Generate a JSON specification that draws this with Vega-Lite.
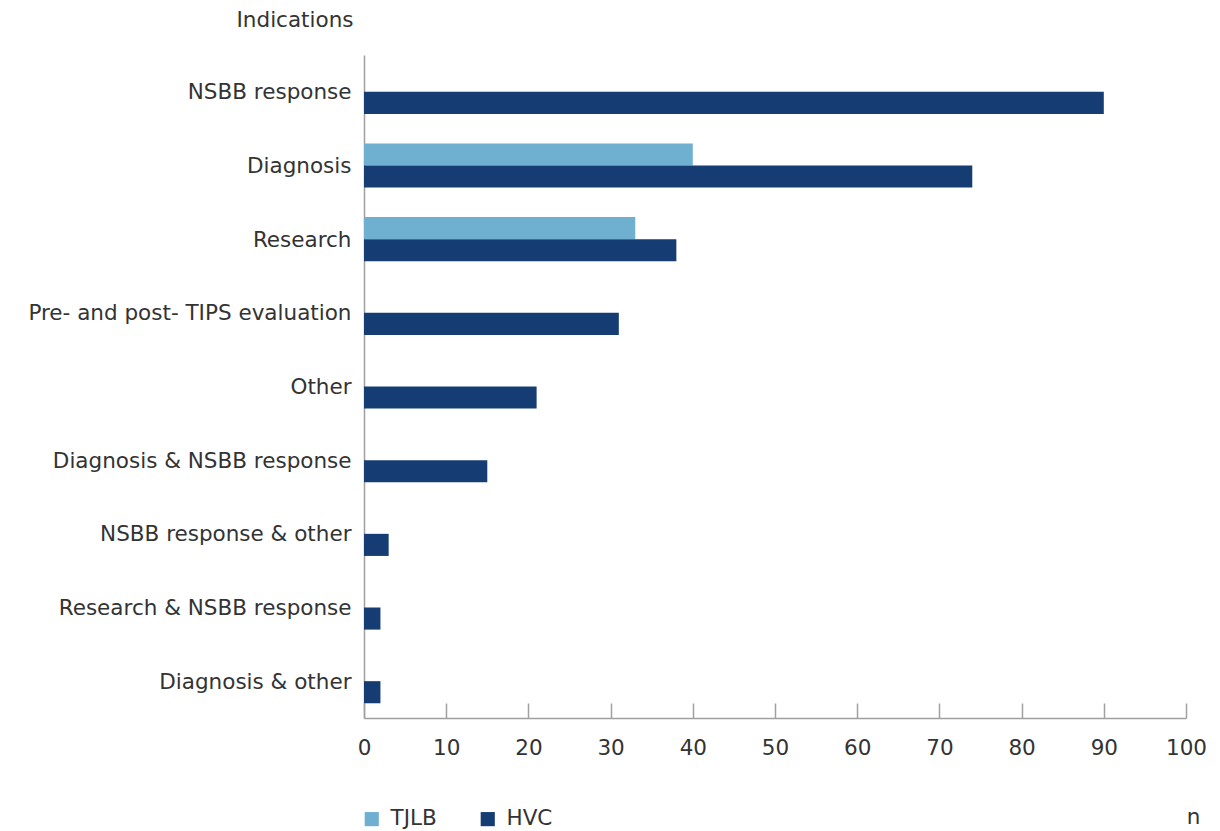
{
  "$schema": "https://vega.github.io/schema/vega-lite/v6.json",
  "autosize": {"type": "none"},
  "padding": {"left": 364, "top": 55, "right": 34, "bottom": 113},
  "width": 822,
  "height": 663,
  "background": "white",
  "config": {
    "view": {"stroke": null},
    "font": "DejaVu Sans",
    "text": {"font": "DejaVu Sans"}
  },
  "data": {
    "values": [
      {"indication": "NSBB response", "cohort": "HVC", "n": 90},
      {"indication": "Diagnosis\u00a0", "cohort": "TJLB", "n": 40},
      {"indication": "Diagnosis\u00a0", "cohort": "HVC", "n": 74},
      {"indication": "Research", "cohort": "TJLB", "n": 33},
      {"indication": "Research", "cohort": "HVC", "n": 38},
      {"indication": "Pre- and post- TIPS evaluation", "cohort": "HVC", "n": 31},
      {"indication": "Other\u00a0", "cohort": "HVC", "n": 21},
      {"indication": "Diagnosis & NSBB response", "cohort": "HVC", "n": 15},
      {"indication": "NSBB response & other", "cohort": "HVC", "n": 3},
      {"indication": "Research & NSBB response", "cohort": "HVC", "n": 2},
      {"indication": "Diagnosis & other", "cohort": "HVC", "n": 2}
    ]
  },
  "mark": {"type": "bar"},
  "encoding": {
    "y": {
      "field": "indication",
      "type": "nominal",
      "sort": null,
      "scale": {"paddingInner": 0.4, "paddingOuter": 0.2},
      "axis": {
        "title": "Indications",
        "titleAngle": 0,
        "titleAlign": "right",
        "titleBaseline": "middle",
        "titleX": -11,
        "titleY": -35,
        "titleFontSize": 21.5,
        "titleFontWeight": "normal",
        "titleColor": "#333333",
        "ticks": false,
        "labelFontSize": 21.5,
        "labelColor": "#333333",
        "labelPadding": 13,
        "labelBaseline": "middle",
        "labelOffset": 1.5,
        "domainColor": "#a0a0a0",
        "domainWidth": 1.5,
        "grid": false,
        "labelLimit": 400
      }
    },
    "yOffset": {
      "field": "cohort",
      "type": "nominal",
      "scale": {"domain": ["TJLB", "HVC"], "paddingInner": 0, "paddingOuter": 0}
    },
    "x": {
      "field": "n",
      "type": "quantitative",
      "scale": {"domain": [0, 100], "nice": false},
      "axis": {
        "values": [0, 10, 20, 30, 40, 50, 60, 70, 80, 90, 100],
        "title": "n",
        "titleX": 829,
        "titleY": 99,
        "titleAlign": "center",
        "titleBaseline": "middle",
        "titleFontSize": 21.5,
        "titleFontWeight": "normal",
        "titleColor": "#333333",
        "grid": false,
        "tickSize": -15,
        "tickColor": "#a0a0a0",
        "tickWidth": 1.5,
        "domainColor": "#a0a0a0",
        "domainWidth": 1.5,
        "labelFontSize": 21.5,
        "labelColor": "#333333",
        "labelPadding": 45,
        "labelBaseline": "middle",
        "labelFlush": false
      }
    },
    "color": {
      "field": "cohort",
      "type": "nominal",
      "scale": {"domain": ["TJLB", "HVC"], "range": ["#6fb0d1", "#163d73"]},
      "legend": {
        "title": null,
        "orient": "none",
        "legendX": -3,
        "legendY": 753,
        "direction": "horizontal",
        "symbolType": "square",
        "symbolSize": 200,
        "symbolStrokeWidth": 0,
        "labelFontSize": 21.5,
        "labelColor": "#333333",
        "labelOffset": 8,
        "columnPadding": 40
      }
    }
  }
}
